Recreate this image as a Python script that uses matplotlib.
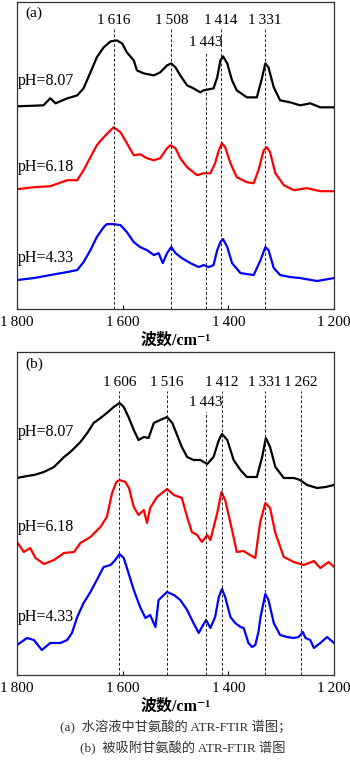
import matplotlib.pyplot as plt

plt.rcParams['font.family'] = ['Liberation Serif', 'Noto Sans CJK SC', 'DejaVu Serif']

# ---- data: (a) glycine in aqueous solution ----
a807_wn = [1800,1750,1737,1727,1705,1686,1674,1661,1649,1636,1623,1611,1601,1592,1579,1573,1560,1541,1529,1516,1508,1500,1491,1478,1466,1453,1447,1437,1428,1421,1415,1410,1402,1393,1384,1365,1346,1336,1330,1324,1314,1302,1283,1264,1245,1226,1200]
a807 = [203,204,211,206,211,214,221,237,252,262,268,269,266,257,249,239,236,234,237,244,246,242,234,224,221,217,219,220,221,232,249,253,246,229,219,212,212,232,246,242,222,209,207,204,206,202,202]

a618_wn = [1800,1768,1737,1705,1686,1674,1661,1649,1636,1623,1617,1604,1592,1579,1567,1554,1541,1529,1516,1510,1500,1491,1478,1459,1447,1434,1425,1418,1412,1406,1396,1384,1365,1352,1343,1333,1327,1321,1311,1295,1276,1251,1226,1200]
a618 = [120,122,123,129,129,139,152,164,172,179,182,177,166,154,155,151,149,151,161,164,161,151,142,134,136,136,146,159,166,162,146,132,127,126,139,159,162,157,136,124,119,121,118,118]

a433_wn = [1800,1768,1737,1705,1686,1674,1661,1649,1636,1630,1617,1604,1592,1579,1567,1554,1541,1532,1524,1516,1508,1500,1488,1472,1456,1447,1437,1428,1421,1415,1410,1402,1393,1377,1352,1339,1330,1324,1314,1302,1283,1264,1232,1200]
a433 = [29,31,34,37,39,47,59,72,82,85,85,84,77,67,62,59,54,56,46,56,62,56,51,46,42,44,42,44,59,67,70,62,46,36,34,49,62,59,41,34,32,31,28,31]

# ---- data: (b) adsorbed glycine ----
b807_wn = [1800,1781,1768,1749,1730,1711,1699,1680,1667,1655,1642,1630,1617,1606,1598,1589,1579,1570,1560,1551,1541,1529,1516,1506,1497,1488,1478,1466,1453,1440,1428,1418,1412,1402,1390,1377,1365,1346,1336,1329,1321,1311,1295,1276,1264,1251,1232,1216,1200]
b807 = [197,199,200,203,208,218,223,233,242,252,257,262,268,272,268,258,245,235,238,237,252,255,258,252,240,228,218,215,215,211,218,235,241,235,215,205,198,198,218,237,228,208,197,197,195,190,187,188,190]

b618_wn = [1800,1787,1775,1765,1749,1730,1711,1692,1680,1661,1642,1630,1620,1612,1606,1595,1588,1579,1570,1560,1554,1548,1535,1516,1503,1488,1478,1469,1459,1450,1440,1434,1421,1413,1406,1393,1384,1371,1359,1349,1340,1330,1321,1311,1295,1276,1257,1238,1226,1210,1200]
b618 = [133,123,127,117,111,115,122,123,132,138,148,158,182,193,195,193,187,168,160,165,152,167,178,186,180,177,158,143,140,133,140,135,162,183,175,145,123,124,120,117,152,172,167,142,118,113,110,114,107,113,108]

b433_wn = [1800,1781,1768,1753,1737,1718,1705,1696,1686,1674,1661,1649,1636,1623,1614,1606,1598,1589,1579,1567,1557,1548,1538,1532,1522,1516,1503,1491,1478,1466,1456,1450,1442,1434,1425,1418,1412,1406,1396,1387,1377,1371,1362,1355,1349,1343,1339,1330,1324,1314,1302,1289,1276,1267,1259,1254,1245,1238,1226,1213,1200]
b433 = [30,37,35,25,32,32,35,42,58,72,83,95,108,110,115,121,117,102,85,68,57,60,48,75,80,83,80,75,65,52,42,48,55,47,58,78,86,78,58,52,48,47,32,28,30,43,58,81,75,52,40,38,37,38,43,37,35,27,32,38,32]

ph_labels = ['pH=8.07', 'pH=6.18', 'pH=4.33']
colors = ['black', 'red', 'blue']

a_peaks = [1616, 1508, 1414, 1331]
a_peak_low = 1443
b_peaks = [1606, 1516, 1412, 1331, 1262]
b_peak_low = 1443

xticks = [1800, 1600, 1400, 1200]
xtick_labels = ['1\u2009800', '1\u2009600', '1\u2009400', '1\u2009200']


def fmt(v):
    s = str(v)
    return s[0] + '\u2009' + s[1:]


def draw_panel(ax, spectra, peaks, low_peak, ymax, lab_y, low_lab_y, ph_y, letter):
    for (wn, vals), c in zip(spectra, colors):
        ax.plot(wn, vals, color=c, lw=1.6)
    for p in peaks:
        ax.vlines(p, 0, lab_y - 9, colors='#222222', lw=0.7, linestyles=(0, (3, 2)))
        ax.text(p, lab_y, fmt(p), ha='center', va='center', fontsize=11)
    ax.vlines(low_peak, 0, low_lab_y - 9, colors='#222222', lw=0.7, linestyles=(0, (3, 2)))
    ax.text(low_peak, low_lab_y, fmt(low_peak), ha='center', va='center', fontsize=11)
    for lab, y in zip(ph_labels, ph_y):
        ax.text(1798, y, lab, ha='left', va='center', fontsize=11.5)
    ax.text(1785, ymax - 12, letter, ha='left', va='center', fontsize=11)
    ax.set_xlim(1800, 1200)
    ax.set_ylim(0, ymax)
    ax.set_yticks([])
    ax.set_xticks(xticks)
    ax.set_xticklabels(xtick_labels)
    ax.tick_params(axis='x', direction='in', length=3, width=0.8, labelsize=11, pad=5)
    for s in ax.spines.values():
        s.set_linewidth(0.9)
        s.set_color('#333333')
    ax.set_xlabel('波数/cm\u207b\u00b9', fontsize=11.5, fontweight='bold', labelpad=3)


fig = plt.figure(figsize=(3.5, 7.62), dpi=100)
ax_a = fig.add_axes([17 / 350, 1 - 309 / 762, 317 / 350, 307.5 / 762])
ax_b = fig.add_axes([17 / 350, 1 - 675 / 762, 317 / 350, 323 / 762])

draw_panel(ax_a, [(a807_wn, a807), (a618_wn, a618), (a433_wn, a433)],
           a_peaks, a_peak_low, 308, 289, 267, [228, 142, 51], '(a)')
draw_panel(ax_b, [(b807_wn, b807), (b618_wn, b618), (b433_wn, b433)],
           b_peaks, b_peak_low, 323, 293, 272, [243, 148, 58], '(b)')

fig.text(176 / 350, 1 - 727 / 762, '(a)  水溶液中甘氨酸的 ATR-FTIR 谱图；',
         ha='center', va='center', fontsize=9.5, color='#333333')
fig.text(183 / 350, 1 - 748 / 762, '(b)  被吸附甘氨酸的 ATR-FTIR 谱图',
         ha='center', va='center', fontsize=9.5, color='#333333')

fig.savefig('out.png', dpi=100)
